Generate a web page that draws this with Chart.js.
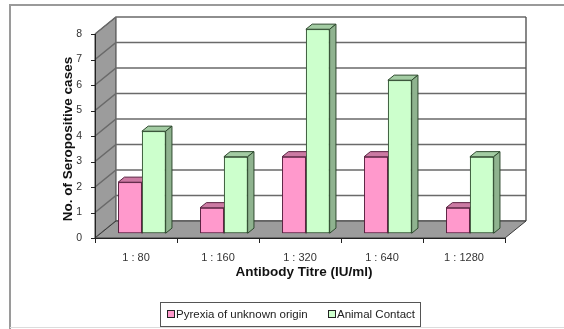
<!DOCTYPE html>
<html>
<head>
<meta charset="utf-8">
<script src="https://cdn.jsdelivr.net/npm/chart.js@4/dist/chart.umd.min.js"></script>
<style>
  html, body { margin: 0; padding: 0; background: #fff; }
  #wrap { width: 564px; height: 329px; position: relative; }
</style>
</head>
<body>
<div id="wrap"><canvas id="c" width="564" height="329"></canvas></div>
<script>
// Titre categories and counts of seropositive cases
const categories = ['1 : 80', '1 : 160', '1 : 320', '1 : 640', '1 : 1280'];
const pyrexia = [2, 1, 3, 3, 1];
const animalContact = [4, 3, 8, 6, 3];
const seriesNames = ['Pyrexia of unknown origin', 'Animal Contact'];
const yMin = 0, yMax = 8, yStep = 1;

// 3D look: depth of the box and of the bars
const DEPTH_X = 21, DEPTH_Y = -17;
const BAR_OFF = 0.28, BAR_THICK = 0.3;

const FONT = '"Liberation Sans", Arial, sans-serif';

const shade = {
  pink:  { front: '#ff99cc', top: '#cc7aa3', side: '#b36b8f', line: '#5a2040' },
  green: { front: '#ccffcc', top: '#a3cca3', side: '#8fb38f', line: '#2e4a2e' }
};
const shadeOrder = [shade.pink, shade.green];

function poly(ctx, pts, fill, stroke, lw) {
  ctx.beginPath();
  ctx.moveTo(pts[0][0], pts[0][1]);
  for (let i = 1; i < pts.length; i++) ctx.lineTo(pts[i][0], pts[i][1]);
  ctx.closePath();
  if (fill) { ctx.fillStyle = fill; ctx.fill(); }
  if (stroke) { ctx.strokeStyle = stroke; ctx.lineWidth = lw || 1; ctx.stroke(); }
}

const excel3d = {
  id: 'excel3d',
  beforeDatasetsDraw(chart) {
    const ctx = chart.ctx;
    const { left: L, right: R, top: T, bottom: B } = chart.chartArea;
    const y = chart.scales.y, x = chart.scales.x;
    const ticks = y.ticks.map(t => t.value);

    ctx.save();
    // back wall
    poly(ctx, [[L + DEPTH_X, T + DEPTH_Y], [R + DEPTH_X, T + DEPTH_Y], [R + DEPTH_X, B + DEPTH_Y], [L + DEPTH_X, B + DEPTH_Y]], '#ffffff', null);
    // left wall
    poly(ctx, [[L, B], [L, T], [L + DEPTH_X, T + DEPTH_Y], [L + DEPTH_X, B + DEPTH_Y]], '#9c9c9c', '#3a3a3a', 1);
    // gridlines on the back wall and the left wall
    ctx.lineWidth = 1.6;
    ctx.strokeStyle = '#6a6a6a';
    ticks.forEach(v => {
      const py = y.getPixelForValue(v);
      ctx.beginPath();
      ctx.moveTo(L, py);
      ctx.lineTo(L + DEPTH_X, py + DEPTH_Y);
      ctx.lineTo(R + DEPTH_X, py + DEPTH_Y);
      ctx.stroke();
    });
    // right edge of the back wall
    ctx.strokeStyle = '#555';
    ctx.lineWidth = 1.4;
    ctx.beginPath();
    ctx.moveTo(R + DEPTH_X, T + DEPTH_Y);
    ctx.lineTo(R + DEPTH_X, B + DEPTH_Y);
    ctx.stroke();
    // floor
    poly(ctx, [[L, B], [R, B], [R + DEPTH_X, B + DEPTH_Y], [L + DEPTH_X, B + DEPTH_Y]], '#9c9c9c', '#3a3a3a', 1);

    // front value axis with tick marks
    ctx.strokeStyle = '#222';
    ctx.lineWidth = 1;
    ctx.beginPath();
    ctx.moveTo(L + 0.5, T);
    ctx.lineTo(L + 0.5, B);
    ticks.forEach(v => {
      const py = Math.round(y.getPixelForValue(v)) + 0.5;
      ctx.moveTo(L - 4, py);
      ctx.lineTo(L, py);
    });
    // front category axis with tick marks between categories
    ctx.moveTo(L, B + 0.5);
    ctx.lineTo(R, B + 0.5);
    const n = categories.length;
    for (let i = 0; i <= n; i++) {
      const px = Math.round(L + (R - L) * i / n) + 0.5;
      ctx.moveTo(px, B);
      ctx.lineTo(px, B + 5);
    }
    ctx.stroke();

    // value tick labels
    ctx.fillStyle = '#333';
    ctx.font = '10.5px ' + FONT;
    ctx.textAlign = 'right';
    ctx.textBaseline = 'middle';
    y.ticks.forEach(t => {
      ctx.fillText(String(t.value), L - 13, y.getPixelForValue(t.value));
    });
    // category labels
    ctx.textAlign = 'center';
    ctx.font = '11px ' + FONT;
    categories.forEach((c, i) => {
      ctx.fillText(c, x.getPixelForValue(i), B + 20);
    });
    // axis titles
    ctx.fillStyle = '#111';
    ctx.font = 'bold 13.5px ' + FONT;
    ctx.fillText('Antibody Titre (IU/ml)', (L + R) / 2 + 4, B + 34);
    ctx.save();
    ctx.translate(68, 139);
    ctx.rotate(-Math.PI / 2);
    ctx.fillText('No. of Seropositive cases', 0, 0);
    ctx.restore();
    ctx.restore();

    // bars sit a little way into the box
    ctx.save();
    ctx.translate(DEPTH_X * BAR_OFF, DEPTH_Y * BAR_OFF);
  },
  afterDatasetsDraw(chart) {
    // repaint every bar left to right so each solid hides the one behind it
    const ctx = chart.ctx;
    const dx = DEPTH_X * BAR_THICK, dy = DEPTH_Y * BAR_THICK;
    const metas = chart.data.datasets.map((d, i) => chart.getDatasetMeta(i));
    for (let c = 0; c < categories.length; c++) {
      metas.forEach((meta, di) => {
        const bar = meta.data[c];
        if (!bar) return;
        const s = shadeOrder[di];
        bar.draw(ctx);
        const p = bar.getProps(['x', 'y', 'base', 'width'], true);
        const x1 = p.x - p.width / 2, x2 = p.x + p.width / 2;
        // top face
        poly(ctx, [[x1, p.y], [x1 + dx, p.y + dy], [x2 + dx, p.y + dy], [x2, p.y]], s.top, s.line, 1);
        // side face
        poly(ctx, [[x2, p.y], [x2 + dx, p.y + dy], [x2 + dx, p.base + dy], [x2, p.base]], s.side, s.line, 1);
      });
    }
    ctx.restore();
  },
  afterDraw(chart) {
    const ctx = chart.ctx;
    ctx.save();
    // outer frame
    ctx.strokeStyle = '#9a9a9a';
    ctx.lineWidth = 2;
    ctx.beginPath();
    ctx.moveTo(10, 329);
    ctx.lineTo(10, 5);
    ctx.lineTo(564, 5);
    ctx.stroke();
    ctx.strokeStyle = '#dcdcdc';
    ctx.lineWidth = 1;
    ctx.beginPath();
    ctx.moveTo(10, 327.5);
    ctx.lineTo(564, 327.5);
    ctx.stroke();

    // legend
    ctx.fillStyle = '#fff';
    ctx.fillRect(160, 302, 260, 24);
    ctx.strokeStyle = '#555';
    ctx.lineWidth = 1;
    ctx.strokeRect(160.5, 302.5, 260, 24);
    ctx.font = '11.5px ' + FONT;
    ctx.textAlign = 'left';
    ctx.textBaseline = 'middle';
    const items = [
      { name: seriesNames[0], s: shade.pink, x: 167 },
      { name: seriesNames[1], s: shade.green, x: 328 }
    ];
    items.forEach(it => {
      ctx.fillStyle = it.s.front;
      ctx.fillRect(it.x + 0.5, 310.5, 7, 7);
      ctx.strokeStyle = '#222';
      ctx.strokeRect(it.x + 0.5, 310.5, 7, 7);
      ctx.fillStyle = '#222';
      ctx.fillText(it.name, it.x + 9, 315);
    });
    ctx.restore();
  }
};

new Chart(document.getElementById('c'), {
  type: 'bar',
  data: {
    labels: categories,
    datasets: [
      {
        label: seriesNames[0], data: pyrexia,
        backgroundColor: shade.pink.front, borderColor: shade.pink.line,
        borderWidth: 1, borderSkipped: false, clip: false,
        categoryPercentage: 0.58, barPercentage: 1
      },
      {
        label: seriesNames[1], data: animalContact,
        backgroundColor: shade.green.front, borderColor: shade.green.line,
        borderWidth: 1, borderSkipped: false, clip: false,
        categoryPercentage: 0.58, barPercentage: 1
      }
    ]
  },
  options: {
    responsive: false,
    animation: false,
    devicePixelRatio: 1,
    layout: { padding: { left: 95, right: 59, top: 34, bottom: 91 } },
    plugins: { legend: { display: false }, tooltip: { enabled: false } },
    scales: {
      x: { display: false },
      y: { display: false, min: yMin, max: yMax, ticks: { stepSize: yStep } }
    }
  },
  plugins: [excel3d]
});
</script>
</body>
</html>
